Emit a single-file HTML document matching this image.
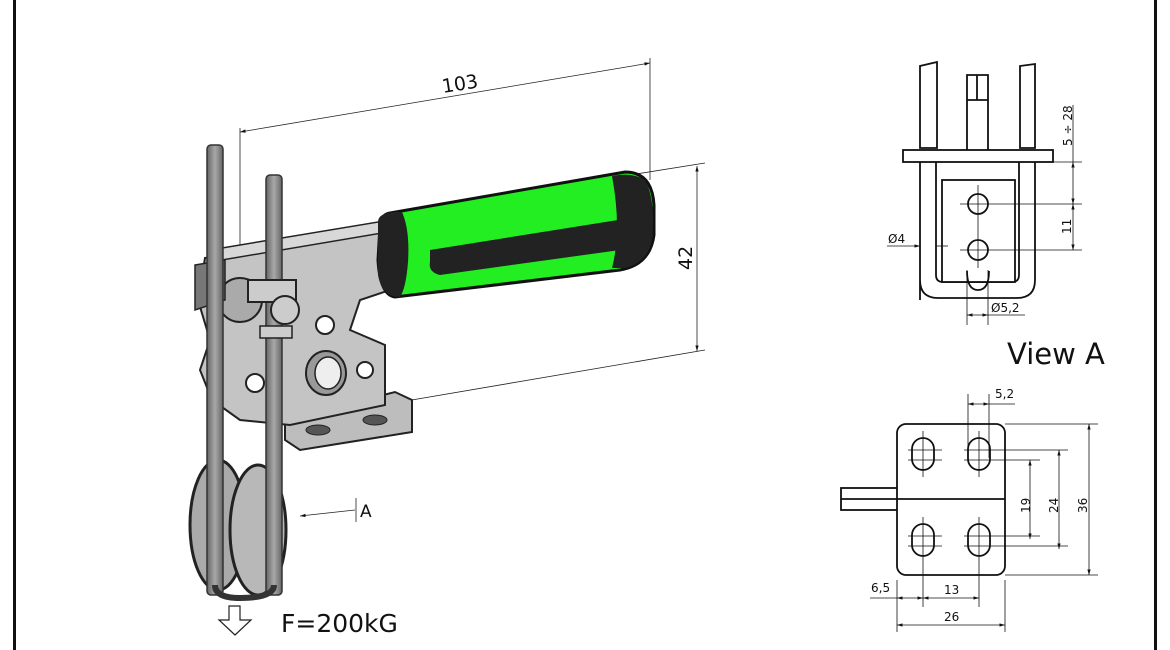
<!DOCTYPE html>
<html><head><meta charset="utf-8"><style>
html,body{margin:0;padding:0;background:#fff;}
svg{display:block}
text{font-family:"DejaVu Sans","Liberation Sans",sans-serif;fill:#111}
</style></head><body>
<svg width="1170" height="650" viewBox="0 0 1170 650" xmlns="http://www.w3.org/2000/svg">
<defs>
<linearGradient id="g1" x1="0" x2="1"><stop offset="0" stop-color="#666"/><stop offset=".5" stop-color="#a8a8a8"/><stop offset="1" stop-color="#666"/></linearGradient>
<marker id="ar" viewBox="0 0 10 10" refX="10" refY="5" markerWidth="7" markerHeight="7" orient="auto-start-reverse"><path d="M0,2 L10,5 L0,8 z" fill="#111"/></marker>
</defs>
<rect x="13" y="0" width="3" height="650" fill="#111"/>
<rect x="1154" y="0" width="3" height="650" fill="#111"/>

<g stroke="#222" stroke-width="0.8" fill="none">
<line x1="240" y1="128" x2="240" y2="250"/>
<line x1="650" y1="58" x2="650" y2="180"/>
<line x1="240" y1="132" x2="650" y2="63" marker-start="url(#ar)" marker-end="url(#ar)"/>
<line x1="630" y1="175" x2="705" y2="163"/>
<line x1="400" y1="402" x2="705" y2="350"/>
<line x1="697" y1="166" x2="697" y2="351" marker-start="url(#ar)" marker-end="url(#ar)"/>
</g>
<text x="443" y="93" font-size="19" transform="rotate(-9 443 93)">103</text>
<text x="692" y="270" font-size="19" transform="rotate(-90 692 270)">42</text>

<path d="M285,420 L395,392 L412,400 L412,432 L300,450 L285,440 z" fill="#bdbdbd" stroke="#222" stroke-width="2"/>
<ellipse cx="318" cy="430" rx="12" ry="5" fill="#555" stroke="#222"/>
<ellipse cx="375" cy="420" rx="12" ry="5" fill="#555" stroke="#222"/>
<path d="M205,258 L380,230 L388,240 L390,290 L360,300 L350,330 L385,345 L385,405 L290,425 L240,420 L212,400 L200,370 L210,340 L198,300 z" fill="#c4c4c4" stroke="#222" stroke-width="2"/>
<path d="M210,250 L378,222 L388,232 L210,262 z" fill="#d8d8d8" stroke="#222" stroke-width="1.5"/>
<circle cx="325" cy="325" r="9" fill="#fff" stroke="#222" stroke-width="2"/>
<circle cx="255" cy="383" r="9" fill="#fff" stroke="#222" stroke-width="2"/>
<circle cx="365" cy="370" r="8" fill="#fff" stroke="#222" stroke-width="2"/>
<ellipse cx="326" cy="373" rx="20" ry="22" fill="#999" stroke="#222" stroke-width="2"/>
<ellipse cx="328" cy="373" rx="13" ry="16" fill="#eee" stroke="#222" stroke-width="1.5"/>
<circle cx="240" cy="300" r="22" fill="#aaa" stroke="#222" stroke-width="2"/>
<path d="M195,265 L225,260 L225,300 L195,310 z" fill="#777" stroke="#222" stroke-width="1.5"/>
<ellipse cx="218" cy="525" rx="28" ry="65" fill="#aaa" stroke="#222" stroke-width="3"/>
<ellipse cx="258" cy="530" rx="28" ry="65" fill="#b8b8b8" stroke="#222" stroke-width="3"/>
<rect x="207" y="145" width="16" height="450" rx="4" fill="url(#g1)" stroke="#333" stroke-width="1.5"/>
<rect x="266" y="175" width="16" height="420" rx="4" fill="url(#g1)" stroke="#333" stroke-width="1.5"/>
<path d="M215,585 Q215,598 240,598 Q274,598 274,585" fill="none" stroke="#333" stroke-width="6"/>
<rect x="248" y="280" width="48" height="22" fill="#ccc" stroke="#222" stroke-width="2"/>
<circle cx="285" cy="310" r="14" fill="#ccc" stroke="#222" stroke-width="2"/>
<rect x="260" y="326" width="32" height="12" fill="#ccc" stroke="#222" stroke-width="1.5"/>
<path d="M390,213 L625,172 Q652,172 654,205 L654,235 Q650,265 620,270 L395,297 Q380,295 378,260 L380,225 Q382,214 390,213 z" fill="#22ee22" stroke="#111" stroke-width="3"/>
<path d="M378,222 Q378,213 395,212 L402,212 Q410,230 408,262 Q406,288 400,297 Q382,297 378,275 z" fill="#222"/>
<path d="M612,176 Q632,172 645,180 Q656,200 652,240 Q648,262 625,268 L612,268 Q622,230 612,176 z" fill="#222"/>
<path d="M430,250 L618,220 L620,250 L440,275 Q428,272 430,262 z" fill="#222"/>

<line x1="355" y1="510" x2="300" y2="516" stroke="#222" stroke-width="0.8" marker-end="url(#ar)"/>
<line x1="356" y1="498" x2="356" y2="522" stroke="#222" stroke-width="0.8"/>
<text x="360" y="517" font-size="17">A</text>
<path d="M229,606 L240,606 L240,620 L251,620 L235,635 L219,620 L229,620 z" fill="#fff" stroke="#222" stroke-width="1.2"/>
<text x="281" y="632" font-size="25">F=200kG</text>

<g stroke="#111" stroke-width="1.8" fill="#fff">
<path d="M920,300 L920,162 M1035,162 L1035,280 Q1035,298 1017,298 L938,298 Q920,298 920,280"/>
<path d="M936,162 L936,275 Q936,282 943,282 L1012,282 Q1019,282 1019,275 L1019,162"/>
<rect x="942" y="180" width="73" height="102"/>
<circle cx="978" cy="204" r="10"/>
<circle cx="978" cy="250" r="10"/>
<path d="M967,271 Q967,290 978,290 Q989,290 989,271" fill="none"/>
<rect x="903" y="150" width="150" height="12"/>
<path d="M920,148 L920,66 L937,62 L937,148 z"/>
<path d="M1020,148 L1020,66 L1035,64 L1035,148 z"/>
<path d="M967,150 L967,75 L988,75 L988,150" fill="none"/>
<line x1="967" y1="100" x2="988" y2="100"/><line x1="977" y1="75" x2="977" y2="100"/>
</g>
<g stroke="#111" stroke-width="0.8" fill="none">
<line x1="1053" y1="162" x2="1082" y2="162"/>
<line x1="960" y1="204" x2="1082" y2="204"/>
<line x1="960" y1="250" x2="1082" y2="250"/>
<line x1="1073" y1="105" x2="1073" y2="162"/>
<line x1="1073" y1="162" x2="1073" y2="204" marker-start="url(#ar)" marker-end="url(#ar)"/>
<line x1="1073" y1="204" x2="1073" y2="250" marker-start="url(#ar)" marker-end="url(#ar)"/>
<line x1="978" y1="185" x2="978" y2="268"/>
<line x1="887" y1="246" x2="920" y2="246" marker-end="url(#ar)"/>
<line x1="936" y1="246" x2="948" y2="246"/>
<line x1="967" y1="270" x2="967" y2="325"/><line x1="988" y1="270" x2="988" y2="325"/>
<line x1="967" y1="315" x2="988" y2="315" marker-start="url(#ar)" marker-end="url(#ar)"/>
<line x1="988" y1="315" x2="1025" y2="315"/>
</g>
<text x="1072" y="146" font-size="12" transform="rotate(-90 1072 146)">5 ÷ 28</text>
<text x="1071" y="234" font-size="12" transform="rotate(-90 1071 234)">11</text>
<text x="888" y="243" font-size="12">Ø4</text>
<text x="991" y="312" font-size="12">Ø5,2</text>
<text x="1007" y="364" font-size="29">View A</text>

<g stroke="#111" stroke-width="1.8" fill="#fff">
<rect x="841" y="488" width="60" height="22"/>
<line x1="841" y1="499" x2="897" y2="499"/>
<rect x="897" y="424" width="108" height="151" rx="9"/>
<line x1="897" y1="499" x2="1005" y2="499"/>
<rect x="912" y="438" width="22" height="32" rx="11"/>
<rect x="968" y="438" width="22" height="32" rx="11"/>
<rect x="912" y="524" width="22" height="32" rx="11"/>
<rect x="968" y="524" width="22" height="32" rx="11"/>
</g>
<g stroke="#111" stroke-width="0.8" fill="none">
<path d="M923,431 V477 M908,450 H942 M908,460 H942 M923,517 V607 M908,536 H942 M908,546 H942"/>
<path d="M979,431 V477 M964,450 H1068 M964,460 H1040 M979,517 V607 M964,536 H1040 M964,546 H1068"/>
<path d="M968,394 V458 M989,394 V458"/>
<line x1="968" y1="404" x2="989" y2="404" marker-start="url(#ar)" marker-end="url(#ar)"/>
<line x1="989" y1="404" x2="1015" y2="404"/>
<path d="M1005,424 H1098 M1005,575 H1098"/>
<line x1="1089" y1="424" x2="1089" y2="575" marker-start="url(#ar)" marker-end="url(#ar)"/>
<line x1="1059" y1="450" x2="1059" y2="549" marker-start="url(#ar)" marker-end="url(#ar)"/>
<line x1="1030" y1="460" x2="1030" y2="539" marker-start="url(#ar)" marker-end="url(#ar)"/>
<path d="M897,580 V632 M1005,580 V632"/>
<line x1="870" y1="598" x2="897" y2="598"/>
<line x1="897" y1="598" x2="923" y2="598" marker-start="url(#ar)" marker-end="url(#ar)"/>
<line x1="923" y1="598" x2="979" y2="598" marker-start="url(#ar)" marker-end="url(#ar)"/>
<line x1="897" y1="625" x2="1005" y2="625" marker-start="url(#ar)" marker-end="url(#ar)"/>
</g>
<text x="995" y="398" font-size="12">5,2</text>
<text x="1030" y="507" font-size="12" transform="rotate(-90 1030 507)" dx="-6">19</text>
<text x="1058" y="507" font-size="12" transform="rotate(-90 1058 507)" dx="-6">24</text>
<text x="1087" y="507" font-size="12" transform="rotate(-90 1087 507)" dx="-6">36</text>
<text x="871" y="592" font-size="12">6,5</text>
<text x="944" y="594" font-size="12">13</text>
<text x="944" y="621" font-size="12">26</text>
</svg>
</body></html>
